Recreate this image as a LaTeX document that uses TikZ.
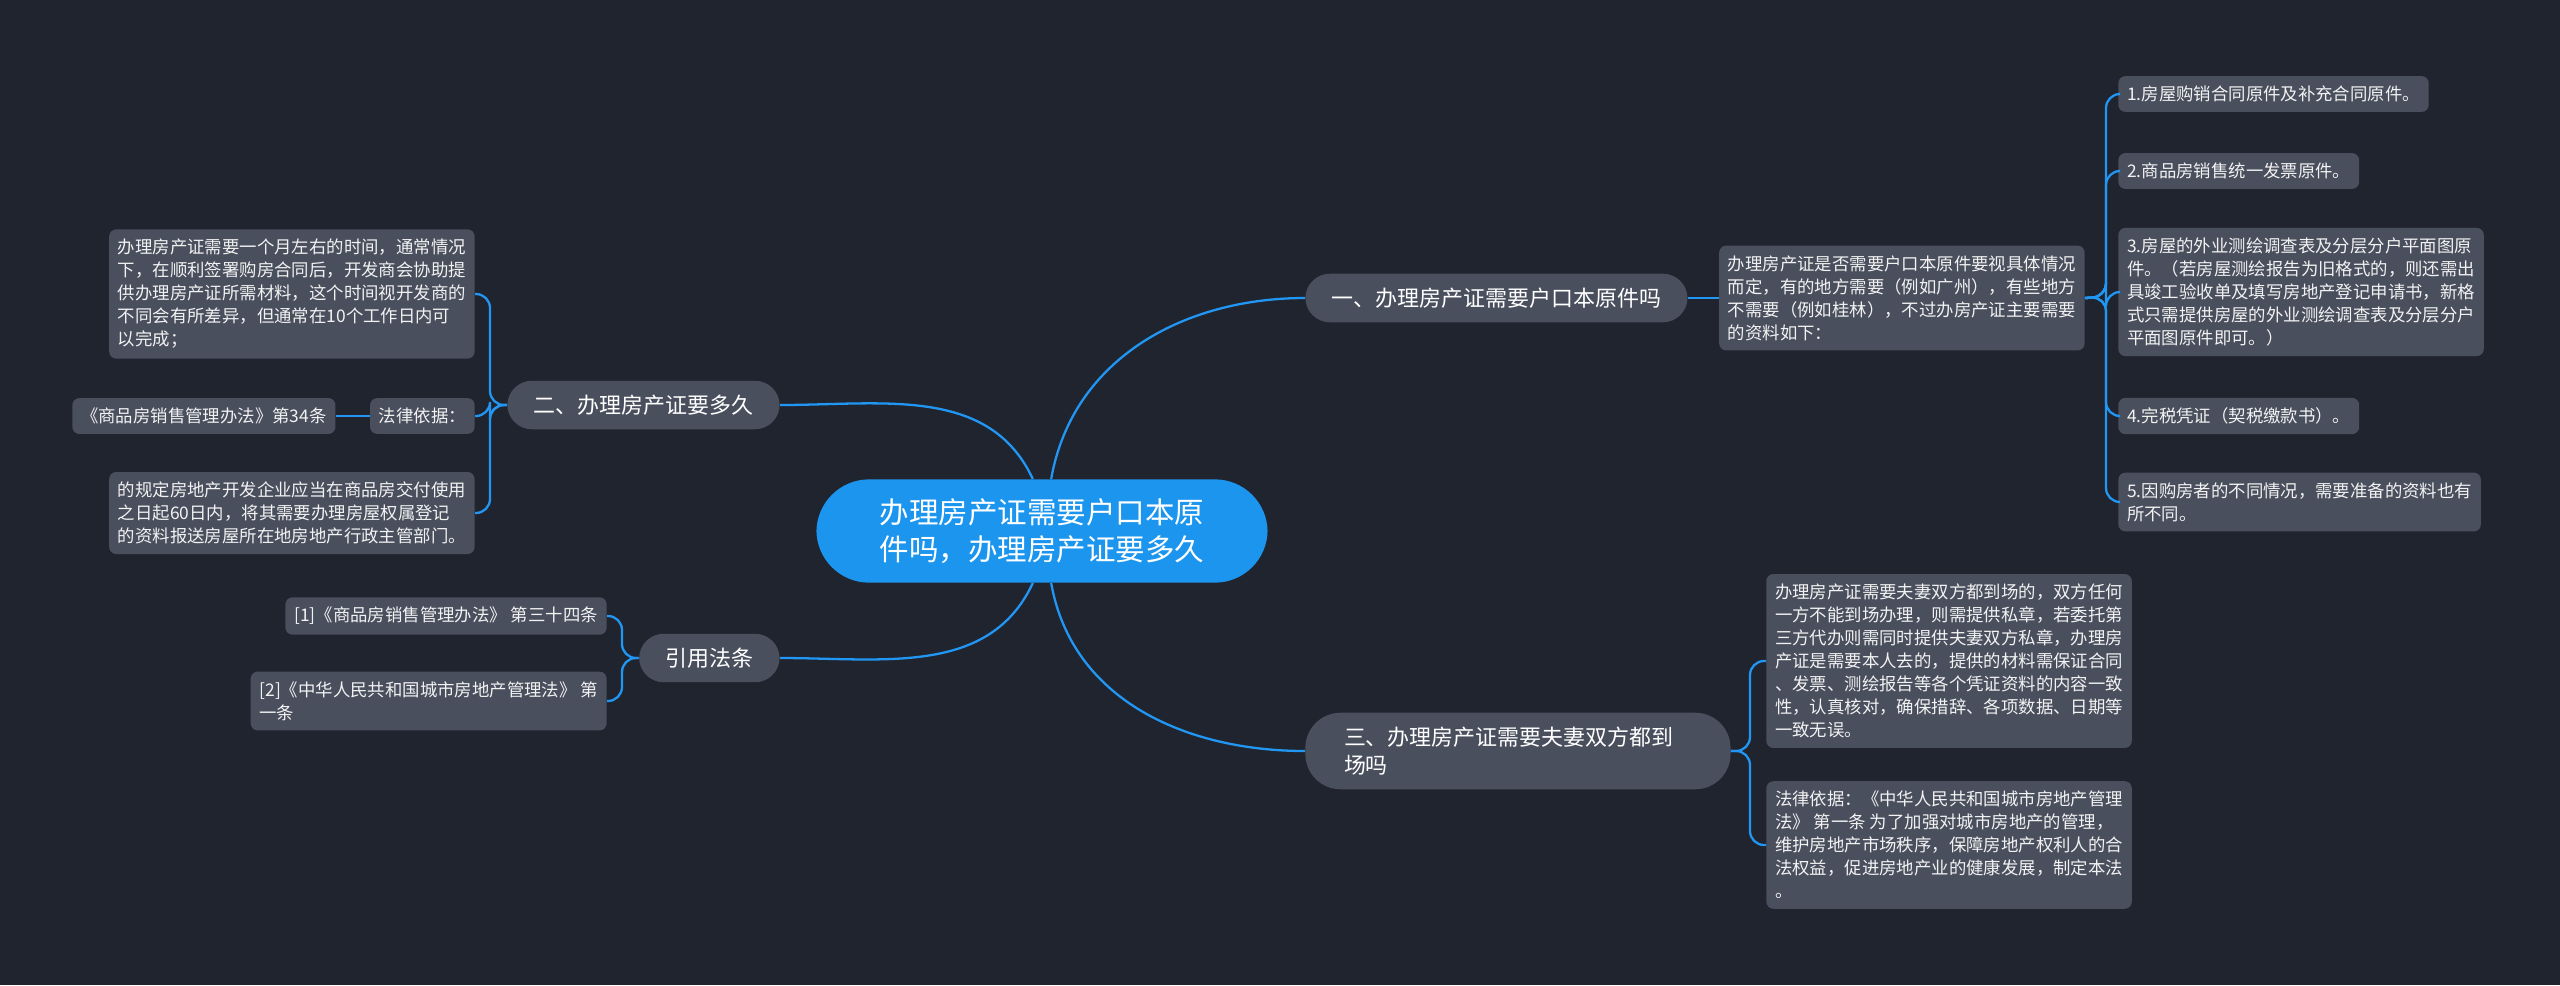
\documentclass[tikz,border=0pt]{standalone}
\usepackage{fontspec}
\newfontfamily\cjk{Noto Sans CJK SC}
\usepackage{tikz}
\usetikzlibrary{positioning}

\definecolor{bgcol}{HTML}{20242F}
\definecolor{boxcol}{HTML}{4A4F5E}
\definecolor{rootcol}{HTML}{1C95EE}
\definecolor{linkcol}{HTML}{2196F3}
\definecolor{txtcol}{HTML}{F2F2F2}

\begin{document}
\begin{tikzpicture}[
    x=0.02cm, y=-0.02cm,
    font=\cjk,
    leaf/.style={fill=boxcol, text=txtcol, rounded corners=4pt, align=left,
                 font=\cjk\fontsize{9.9}{13.1}\selectfont,
                 inner xsep=5pt, inner ysep=5.6pt},
    branch/.style={fill=boxcol, text=white, rounded corners=14pt, align=left,
                   font=\cjk\fontsize{12.5}{16}\selectfont,
                   inner xsep=15pt, inner ysep=8pt},
    hub/.style={fill=rootcol, text=white, rounded corners=30pt, align=center,
                font=\cjk\fontsize{16.8}{20.8}\selectfont,
                inner xsep=36pt, inner ysep=11pt},
    link/.style={draw=linkcol, line width=1.3pt, rounded corners=8pt}
  ]
    \fill[bgcol] (0,0) rectangle (2560,985);

    % centre
    \node[hub] (root) at (1042,531) {办理房产证需要户口本原\\件吗，办理房产证要多久};

    % right side
    \node[branch, anchor=west] (b1) at (1305,298) {一、办理房产证需要户口本原件吗};
    \node[leaf, right=6.2mm of b1] (d1) {办理房产证是否需要户口本原件要视具体情况\\而定，有的地方需要（例如广州），有些地方\\不需要（例如桂林），不过办房产证主要需要\\的资料如下：};
    \node[leaf, anchor=west] (l1) at (2118,94) {1.房屋购销合同原件及补充合同原件。};
    \node[leaf, anchor=west] (l2) at (2118,171) {2.商品房销售统一发票原件。};
    \node[leaf, anchor=west] (l3) at (2118,292) {3.房屋的外业测绘调查表及分层分户平面图原\\件。（若房屋测绘报告为旧格式的，则还需出\\具竣工验收单及填写房地产登记申请书，新格\\式只需提供房屋的外业测绘调查表及分层分户\\平面图原件即可。）};
    \node[leaf, anchor=west] (l4) at (2118,416) {4.完税凭证（契税缴款书）。};
    \node[leaf, anchor=west] (l5) at (2118,502) {5.因购房者的不同情况，需要准备的资料也有\\所不同。};

    \node[branch, anchor=west, text width=198pt, inner xsep=22pt, rounded corners=20pt] (b3) at (1305,751) {三、办理房产证需要夫妻双方都到\\场吗};
    \node[leaf, anchor=west] (l3a) at (1766,661) {办理房产证需要夫妻双方都到场的，双方任何\\一方不能到场办理，则需提供私章，若委托第\\三方代办则需同时提供夫妻双方私章，办理房\\产证是需要本人去的，提供的材料需保证合同\\、发票、测绘报告等各个凭证资料的内容一致\\性，认真核对，确保措辞、各项数据、日期等\\一致无误。};
    \node[leaf, anchor=west] (l3b) at (1766,845) {法律依据：《中华人民共和国城市房地产管理\\法》 第一条 为了加强对城市房地产的管理，\\维护房地产市场秩序，保障房地产权利人的合\\法权益，促进房地产业的健康发展，制定本法\\。};

    % left side
    \node[branch, anchor=east] (b2) at (780,405) {二、办理房产证要多久};
    \node[leaf, anchor=east] (l2a) at (475,294) {办理房产证需要一个月左右的时间，通常情况\\下，在顺利签署购房合同后，开发商会协助提\\供办理房产证所需材料，这个时间视开发商的\\不同会有所差异，但通常在10个工作日内可\\以完成；};
    \node[leaf, anchor=east] (law) at (475,416) {法律依据：};
    \node[leaf, left=6.8mm of law] (ref34) {《商品房销售管理办法》第34条};
    \node[leaf, anchor=east] (l2c) at (475,513) {的规定房地产开发企业应当在商品房交付使用\\之日起60日内，将其需要办理房屋权属登记\\的资料报送房屋所在地房地产行政主管部门。};

    \node[branch, anchor=east] (b4) at (780,658) {引用法条};
    \node[leaf, anchor=east] (l4a) at (607,616) {[1]《商品房销售管理办法》\ 第三十四条};
    \node[leaf, anchor=east] (l4b) at (607,701) {[2]《中华人民共和国城市房地产管理法》\ 第\\一条};

    % trunks
    \coordinate (t1) at (2106,297);
    \coordinate (t2) at (490,405);
    \coordinate (t3) at (1750,751);
    \coordinate (t4) at (622,658);

    % links
    \draw[link] (root.80) to[out=80,in=180] (b1.west);
    \draw[link] (root.100) to[out=115,in=0] (b2.east);
    \draw[link] (root.280) to[out=-80,in=180] (b3.west);
    \draw[link] (root.260) to[out=-115,in=0] (b4.east);

    \draw[link] (b1) -- (d1);
    \foreach \n in {l1,l2,l3,l4,l5}
      \draw[link] (d1.east) -- (t1) |- (\n.west);
    \foreach \n in {l3a,l3b}
      \draw[link] (b3.east) -- (t3) |- (\n.west);
    \foreach \n in {l2a,law,l2c}
      \draw[link] (b2.west) -- (t2) |- (\n.east);
    \draw[link] (law) -- (ref34);
    \foreach \n in {l4a,l4b}
      \draw[link] (b4.west) -- (t4) |- (\n.east);
  \end{tikzpicture}
\end{document}
